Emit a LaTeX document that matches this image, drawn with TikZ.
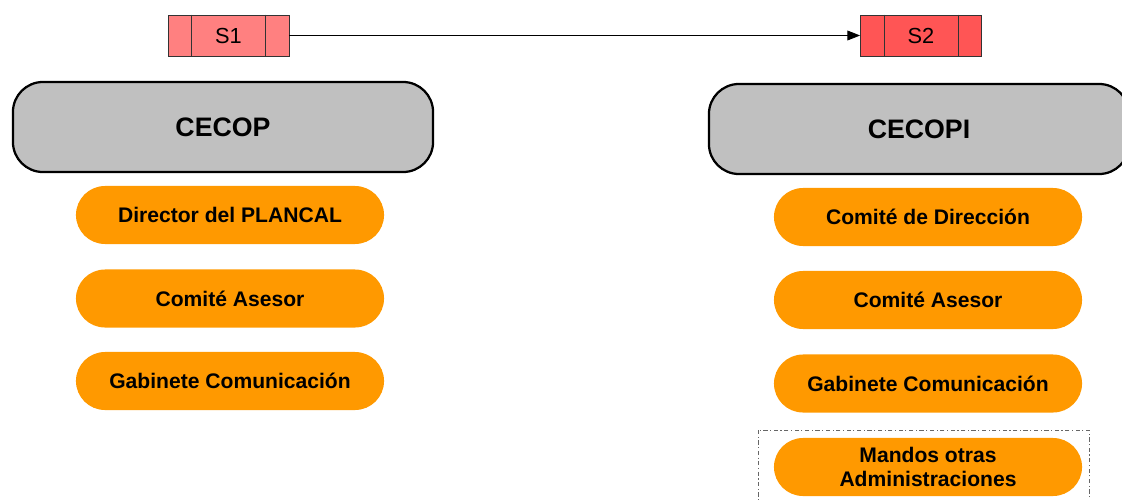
\documentclass[tikz,border=0pt]{standalone}
\usepackage{fontspec}
\setmainfont{Liberation Sans}
\usetikzlibrary{shapes.misc,arrows.meta}

\definecolor{salmon}{HTML}{FF8080}
\definecolor{redbox}{HTML}{FF5555}
\definecolor{cecgray}{HTML}{C0C0C0}
\definecolor{naranja}{HTML}{FF9900}

\begin{document}
\begin{tikzpicture}[x=0.025cm, y=-0.025cm]

\tikzstyle{every node} = [inner sep=0pt, align=center]
\tikzstyle{fase} = [rectangle, draw=black!80, line width=0.6pt, minimum width=3.025cm, minimum height=1.025cm, font=\fontsize{15.5}{17}\selectfont]
\tikzstyle{centro} = [rectangle, rounded corners=0.75cm, draw=black, line width=1.6pt, fill=cecgray, minimum width=10.5cm, minimum height=2.25cm, font=\fontsize{19}{22}\selectfont\bfseries]
\tikzstyle{organo} = [rounded rectangle, fill=naranja, minimum width=7.7cm, minimum height=1.45cm, font=\fontsize{15}{17}\selectfont\bfseries]

\clip (0,0) rectangle (1122,499);

\node[fase, fill=salmon] (s1) at (228.5,35.5) {S1};
\node[fase, fill=redbox] (s2) at (921,35.5) {S2};

\draw[black!80, line width=0.6pt] ([xshift=0.6cm]s1.north west) -- ([xshift=0.6cm]s1.south west);
\draw[black!80, line width=0.6pt] ([xshift=-0.6cm]s1.north east) -- ([xshift=-0.6cm]s1.south east);
\draw[black!80, line width=0.6pt] ([xshift=0.6cm]s2.north west) -- ([xshift=0.6cm]s2.south west);
\draw[black!80, line width=0.6pt] ([xshift=-0.6cm]s2.north east) -- ([xshift=-0.6cm]s2.south east);

\draw[-{Triangle[length=9pt,width=7pt]}, line width=0.5pt] (s1) -- (s2);

\node[centro] (cecop) at (223,127) {CECOP};
\node[centro] (cecopi) at (919,129) {CECOPI};

\node[organo] (dir) at (230,215) {Director del PLANCAL};
\node[organo] (ase1) at (230,298.5) {Comité Asesor};
\node[organo] (gab1) at (230,381) {Gabinete Comunicación};

\node[organo] (com) at (928,217) {Comité de Dirección};
\node[organo] (ase2) at (928,300) {Comité Asesor};
\node[organo] (gab2) at (928,383.5) {Gabinete Comunicación};
\node[organo] (man) at (928,467) {Mandos otras\\Administraciones};

\draw[black!60, line width=0.6pt, dash pattern=on 3pt off 1.8pt on 0.8pt off 1.8pt] (758,430) rectangle (1089,520);
\end{tikzpicture}
\end{document}
